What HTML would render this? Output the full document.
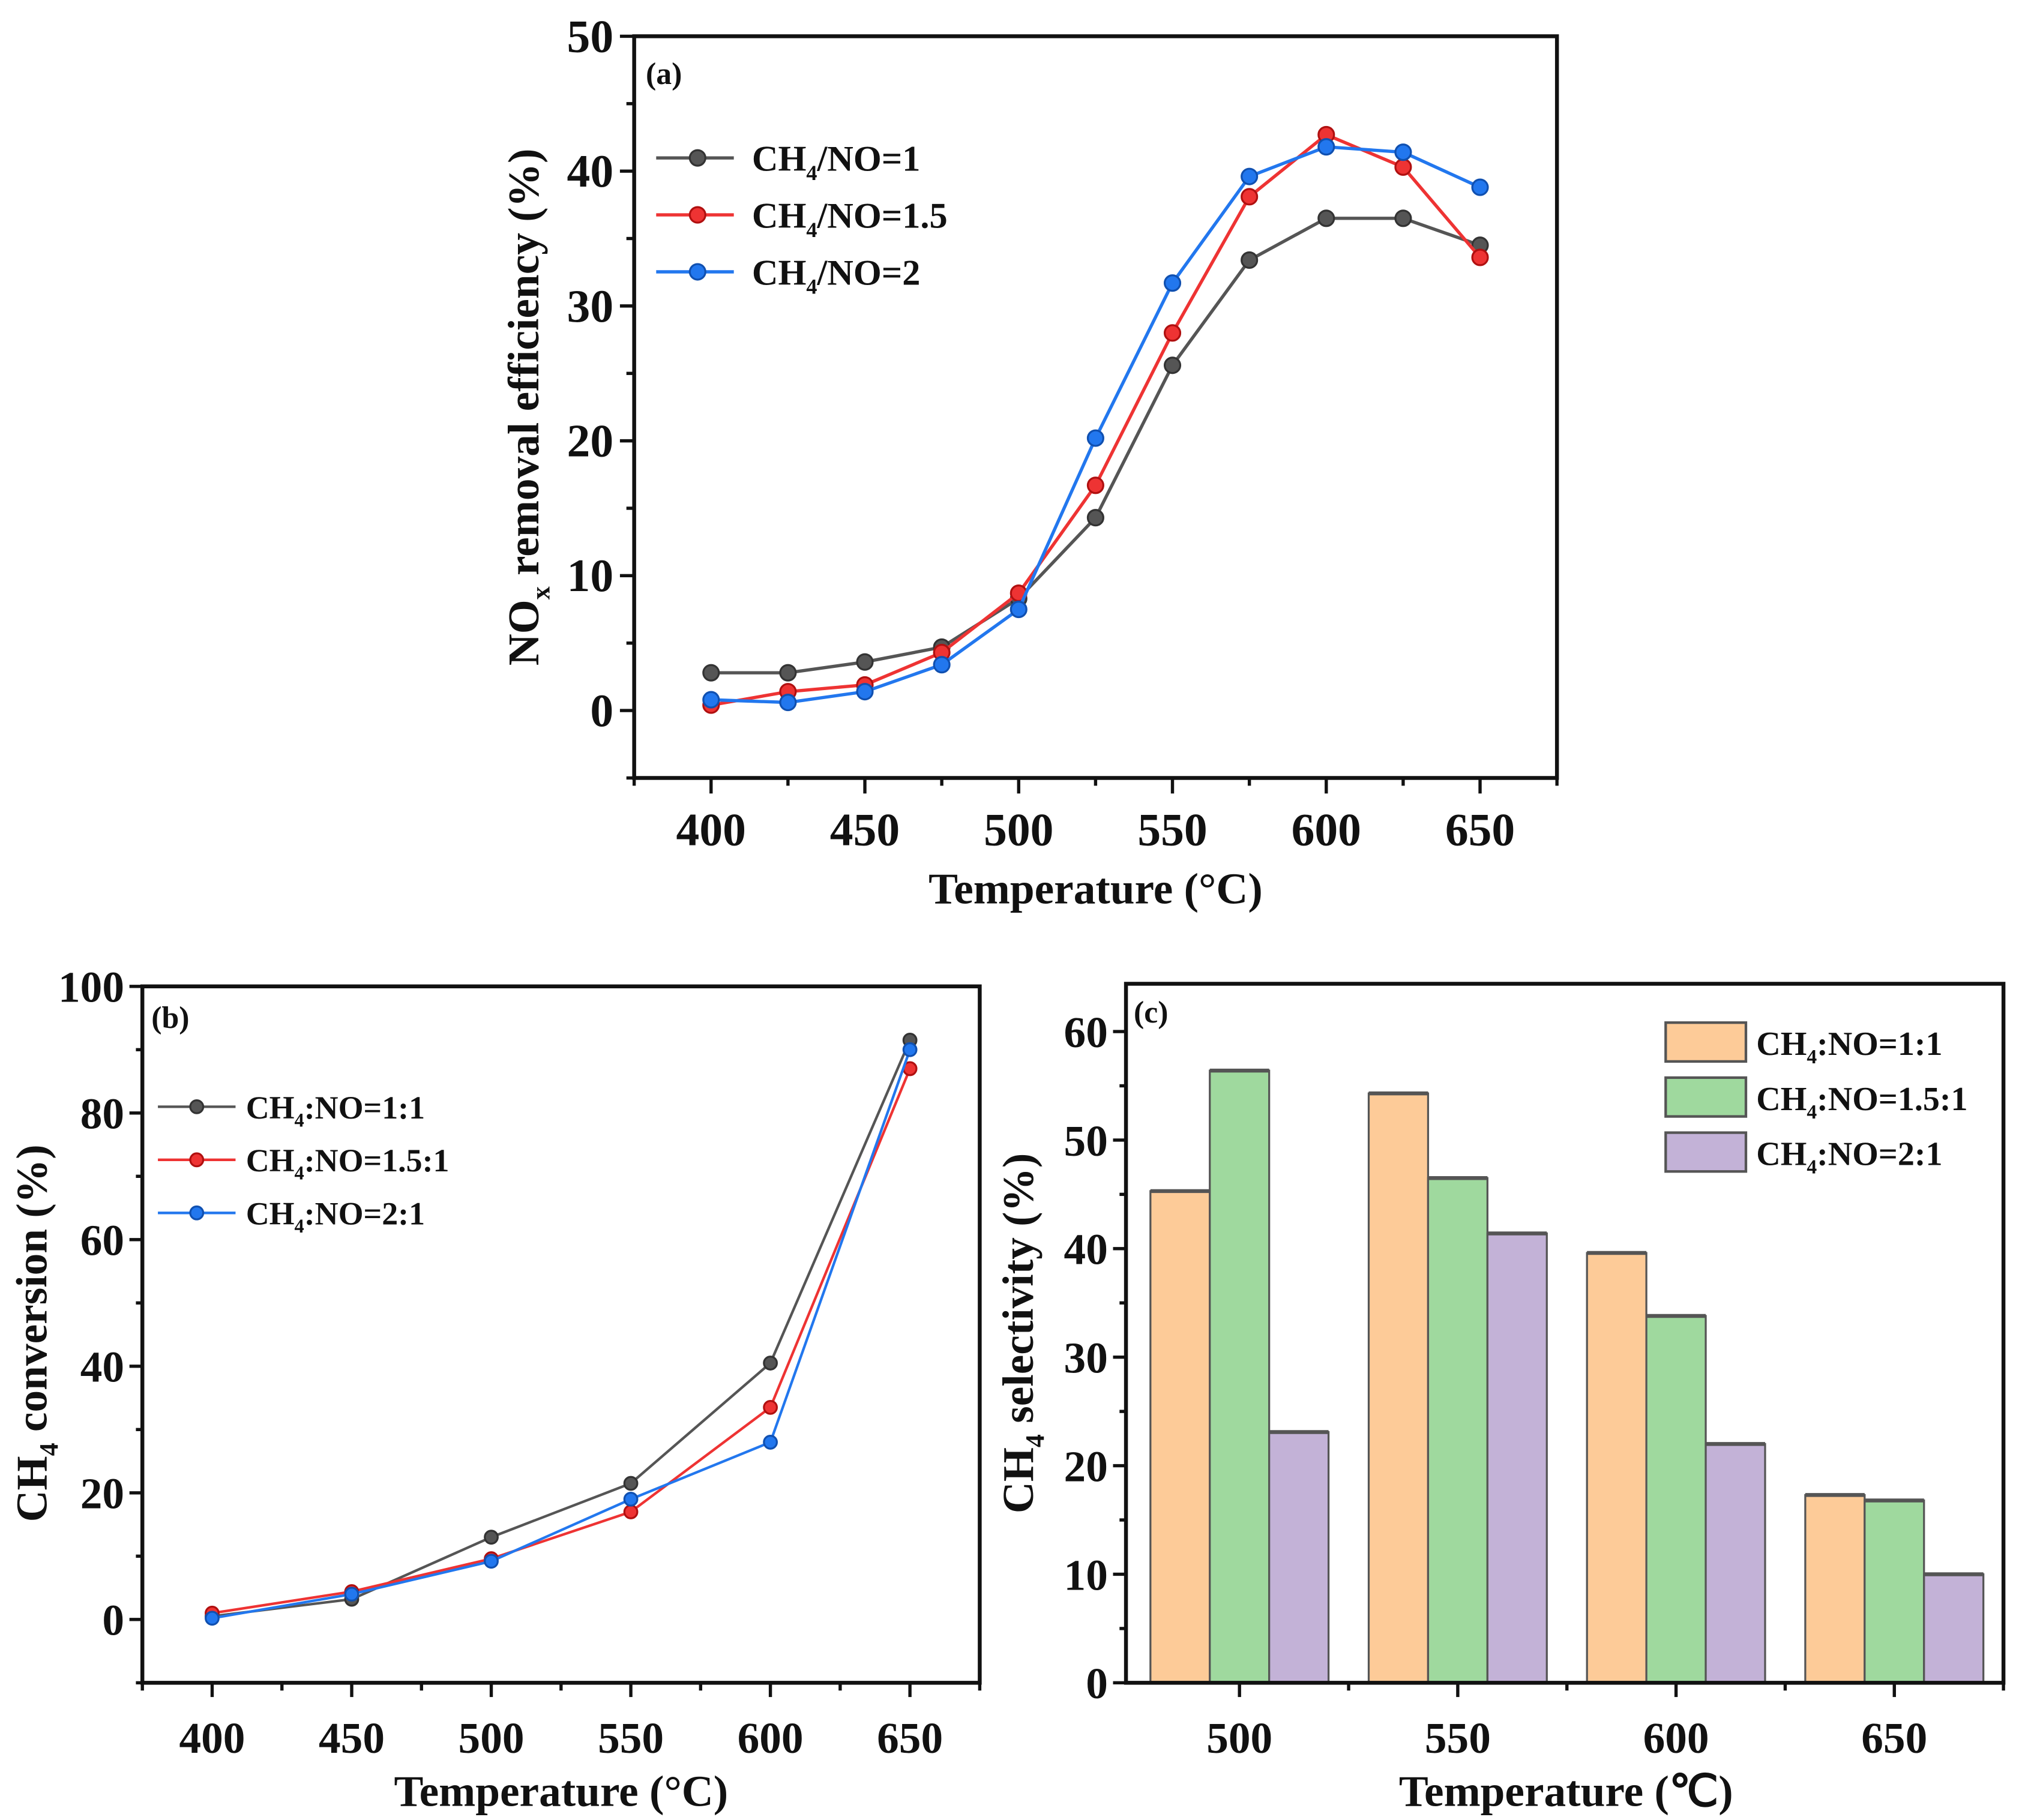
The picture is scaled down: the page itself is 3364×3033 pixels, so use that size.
<!DOCTYPE html>
<html><head><meta charset="utf-8"><style>
html,body{margin:0;padding:0;background:#fff}
svg{display:block}
text{font-family:"Liberation Serif",serif;font-weight:bold;fill:#111}
</style></head><body>
<svg id="fig" width="3364" height="3033" viewBox="0 0 1560 1406" preserveAspectRatio="none" xmlns="http://www.w3.org/2000/svg"></svg>
<script>
// Panel (a) data
const aTemps=[400,425,450,475,500,525,550,575,600,625,650];
const aS1=[2.8,2.8,3.6,4.7,8.3,14.3,25.6,33.4,36.5,36.5,34.5];
const aS15=[0.4,1.4,1.9,4.3,8.7,16.7,28,38.1,42.7,40.3,33.6];
const aS2=[0.8,0.6,1.4,3.4,7.5,20.2,31.7,39.6,41.8,41.4,38.8];
const aYTicks=[0,10,20,30,40,50];
const aXTicks=[400,450,500,550,600,650];
const aLegend=["1","1.5","2"];
// Panel (b) data
const bTemps=[400,450,500,550,600,650];
const bS1=[0.5,3.2,13,21.5,40.5,91.5];
const bS15=[1,4.4,9.6,17,33.5,87];
const bS2=[0.2,4,9.2,19,28,90];
const bYTicks=[0,20,40,60,80,100];
const bXTicks=[400,450,500,550,600,650];
const bLegend=["1:1","1.5:1","2:1"];
// Panel (c) data
const cTemps=[500,550,600,650];
const cS1=[45.3,54.3,39.6,17.3];
const cS15=[56.4,46.5,33.8,16.8];
const cS2=[23.1,41.4,22,10];
const cYTicks=[0,10,20,30,40,50,60];
const cLegend=["1:1","1.5:1","2:1"];

const NS="http://www.w3.org/2000/svg";
const svg=document.getElementById('fig');
function el(tag,attrs,parent,txt){const e=document.createElementNS(NS,tag);for(const k in attrs)e.setAttribute(k,attrs[k]);if(txt!==undefined)e.textContent=txt;(parent||svg).appendChild(e);return e;}
function sub(t,base,subtxt,rest,size){
  el('tspan',{},t,base);
  el('tspan',{'font-size':size*0.6,dy:size*0.25},t,subtxt);
  el('tspan',{dy:-size*0.25},t,rest);
}
const cols=['#555555','#ee3333','#2277ee'];
const dark=['#333','#b01010','#1050b0'];

function frame(g,L,R,T,B){
  const f=el('rect',{x:L,y:T,width:R-L,height:B-T,fill:'none',stroke:'#111','stroke-width':3},g);
  
  
}

// ---------- Panel (a)
(function(){
  const g=el('g',{});
  const L=490,R=1203,T=28,B=601,x0=375,x1=675,y0=-5,y1=50;
  const X=v=>L+(v-x0)/(x1-x0)*(R-L), Y=v=>B-(v-y0)/(y1-y0)*(B-T);
  frame(g,L,R,T,B);
  for(let v=-5;v<=50;v+=5){const maj=v%10===0;const t=el('line',{x1:L,x2:L-(maj?11:6),y1:Y(v),y2:Y(v),stroke:'#111','stroke-width':2.5},g);}
  for(let v=375;v<=675;v+=25){const maj=v%50===0;const t=el('line',{x1:X(v),x2:X(v),y1:B,y2:B+(maj?12:6),stroke:'#111','stroke-width':2.5},g);}
  aYTicks.forEach(v=>{const t=el('text',{x:L-16,y:Y(v)+12,'font-size':36,'text-anchor':'end'},g,v);});
  aXTicks.forEach(v=>{const t=el('text',{x:X(v),y:B+52,'font-size':36,'text-anchor':'middle'},g,v);});
  const xt=el('text',{x:(L+R)/2,y:698,'font-size':34,'text-anchor':'middle'},g,'Temperature (°C)');
  const yt=el('text',{x:0,y:0,'font-size':34,'text-anchor':'middle',transform:`translate(416,${Y(22.5)}) rotate(-90)`},g);
  sub(yt,'NO','x',' removal efficiency (%)',34);
  const pl=el('text',{x:499,y:65,'font-size':24},g,'(a)');
  [aS1,aS15,aS2].forEach((s,i)=>{
    const p=el('polyline',{points:s.map((v,j)=>X(aTemps[j])+','+Y(v)).join(' '),fill:'none',stroke:cols[i],'stroke-width':2.5},g);
    
    s.forEach((v,j)=>{const c=el('circle',{cx:X(aTemps[j]),cy:Y(v),r:6,fill:cols[i],stroke:dark[i],'stroke-width':1.5},g);});
  });
  aLegend.forEach((lab,i)=>{
    const y=122+i*44;
    const ln=el('line',{x1:507,x2:567,y1:y,y2:y,stroke:cols[i],'stroke-width':2.5},g);
    const c=el('circle',{cx:539,cy:y,r:6,fill:cols[i],stroke:dark[i],'stroke-width':1.5},g);
    const t=el('text',{x:581,y:y+10,'font-size':28},g);
    sub(t,'CH','4','/NO='+lab,28);
  });
})();

// ---------- Panel (b)
(function(){
  const g=el('g',{});
  const L=110,R=757,T=762,B=1300,x0=375,x1=675,y0=-10,y1=100;
  const X=v=>L+(v-x0)/(x1-x0)*(R-L), Y=v=>B-(v-y0)/(y1-y0)*(B-T);
  frame(g,L,R,T,B);
  for(let v=-10;v<=100;v+=10){const maj=v%20===0;const t=el('line',{x1:L,x2:L-(maj?10:5),y1:Y(v),y2:Y(v),stroke:'#111','stroke-width':2.5},g);}
  for(let v=375;v<=675;v+=25){const maj=v%50===0;const t=el('line',{x1:X(v),x2:X(v),y1:B,y2:B+(maj?11:6),stroke:'#111','stroke-width':2.5},g);}
  bYTicks.forEach(v=>{const t=el('text',{x:L-14,y:Y(v)+12,'font-size':34,'text-anchor':'end'},g,v);});
  bXTicks.forEach(v=>{const t=el('text',{x:X(v),y:B+54,'font-size':34,'text-anchor':'middle'},g,v);});
  const xt=el('text',{x:(L+R)/2,y:1395,'font-size':34,'text-anchor':'middle'},g,'Temperature (°C)');
  const yt=el('text',{x:0,y:0,'font-size':34,'text-anchor':'middle',transform:`translate(36,1030) rotate(-90)`},g);
  sub(yt,'CH','4',' conversion (%)',34);
  const pl=el('text',{x:117,y:794,'font-size':24},g,'(b)');
  [bS1,bS15,bS2].forEach((s,i)=>{
    const p=el('polyline',{points:s.map((v,j)=>X(bTemps[j])+','+Y(v)).join(' '),fill:'none',stroke:cols[i],'stroke-width':2},g);
    
    s.forEach((v,j)=>{const c=el('circle',{cx:X(bTemps[j]),cy:Y(v),r:5,fill:cols[i],stroke:dark[i],'stroke-width':1.5},g);});
  });
  bLegend.forEach((lab,i)=>{
    const y=855+i*41;
    const ln=el('line',{x1:122,x2:182,y1:y,y2:y,stroke:cols[i],'stroke-width':2},g);
    const c=el('circle',{cx:152,cy:y,r:5,fill:cols[i],stroke:dark[i],'stroke-width':1.5},g);
    const t=el('text',{x:190,y:y+9,'font-size':25},g);
    sub(t,'CH','4',':NO='+lab,25);
  });
})();

// ---------- Panel (c)
(function(){
  const g=el('g',{});
  const L=870,R=1548,T=760,B=1300,x0=474,x1=675,y0=0,y1=64.4;
  const X=v=>L+(v-x0)/(x1-x0)*(R-L), Y=v=>B-(v-y0)/(y1-y0)*(B-T);
  const bw=13.6*(R-L)/(x1-x0);
  const fills=['#fdcb98','#9fd99e','#c3b2d7'];
  [cS1,cS15,cS2].forEach((s,i)=>{
    s.forEach((v,j)=>{
      const cx=X(cTemps[j])+(i-1)*bw;
      const r=el('rect',{x:cx-bw/2,y:Y(v),width:bw,height:Y(0)-Y(v),fill:fills[i],stroke:'#555','stroke-width':1.5},g);
      
      const tp=el('line',{x1:cx-bw/2,x2:cx+bw/2,y1:Y(v),y2:Y(v),stroke:'#555','stroke-width':3},g);
    });
  });
  frame(g,L,R,T,B);
  for(let v=0;v<=60;v+=5){const maj=v%10===0;const t=el('line',{x1:L,x2:L-(maj?10:5),y1:Y(v),y2:Y(v),stroke:'#111','stroke-width':2.5},g);}
  cTemps.forEach(v=>{const t=el('line',{x1:X(v),x2:X(v),y1:B,y2:B+11,stroke:'#111','stroke-width':2.5},g);
    const m=el('line',{x1:X(v+25),x2:X(v+25),y1:B,y2:B+6,stroke:'#111','stroke-width':2.5},g);});
  cYTicks.forEach(v=>{const t=el('text',{x:L-14,y:Y(v)+12,'font-size':34,'text-anchor':'end'},g,v);});
  cTemps.forEach(v=>{const t=el('text',{x:X(v),y:B+54,'font-size':34,'text-anchor':'middle'},g,v);});
  const xt=el('text',{x:1210,y:1395,'font-size':34,'text-anchor':'middle'},g,'Temperature (℃)');
  const yt=el('text',{x:0,y:0,'font-size':34,'text-anchor':'middle',transform:`translate(798,1030) rotate(-90)`},g);
  sub(yt,'CH','4',' selectivity (%)',34);
  const pl=el('text',{x:876,y:790,'font-size':24},g,'(c)');
  cLegend.forEach((lab,i)=>{
    const y=790+i*42.5;
    const r=el('rect',{x:1287,y:y,width:62,height:30,fill:fills[i],stroke:'#555','stroke-width':2},g);
    const t=el('text',{x:1357,y:y+25,'font-size':26},g);
    sub(t,'CH','4',':NO='+lab,26);
  });
})();
</script>
</body></html>
